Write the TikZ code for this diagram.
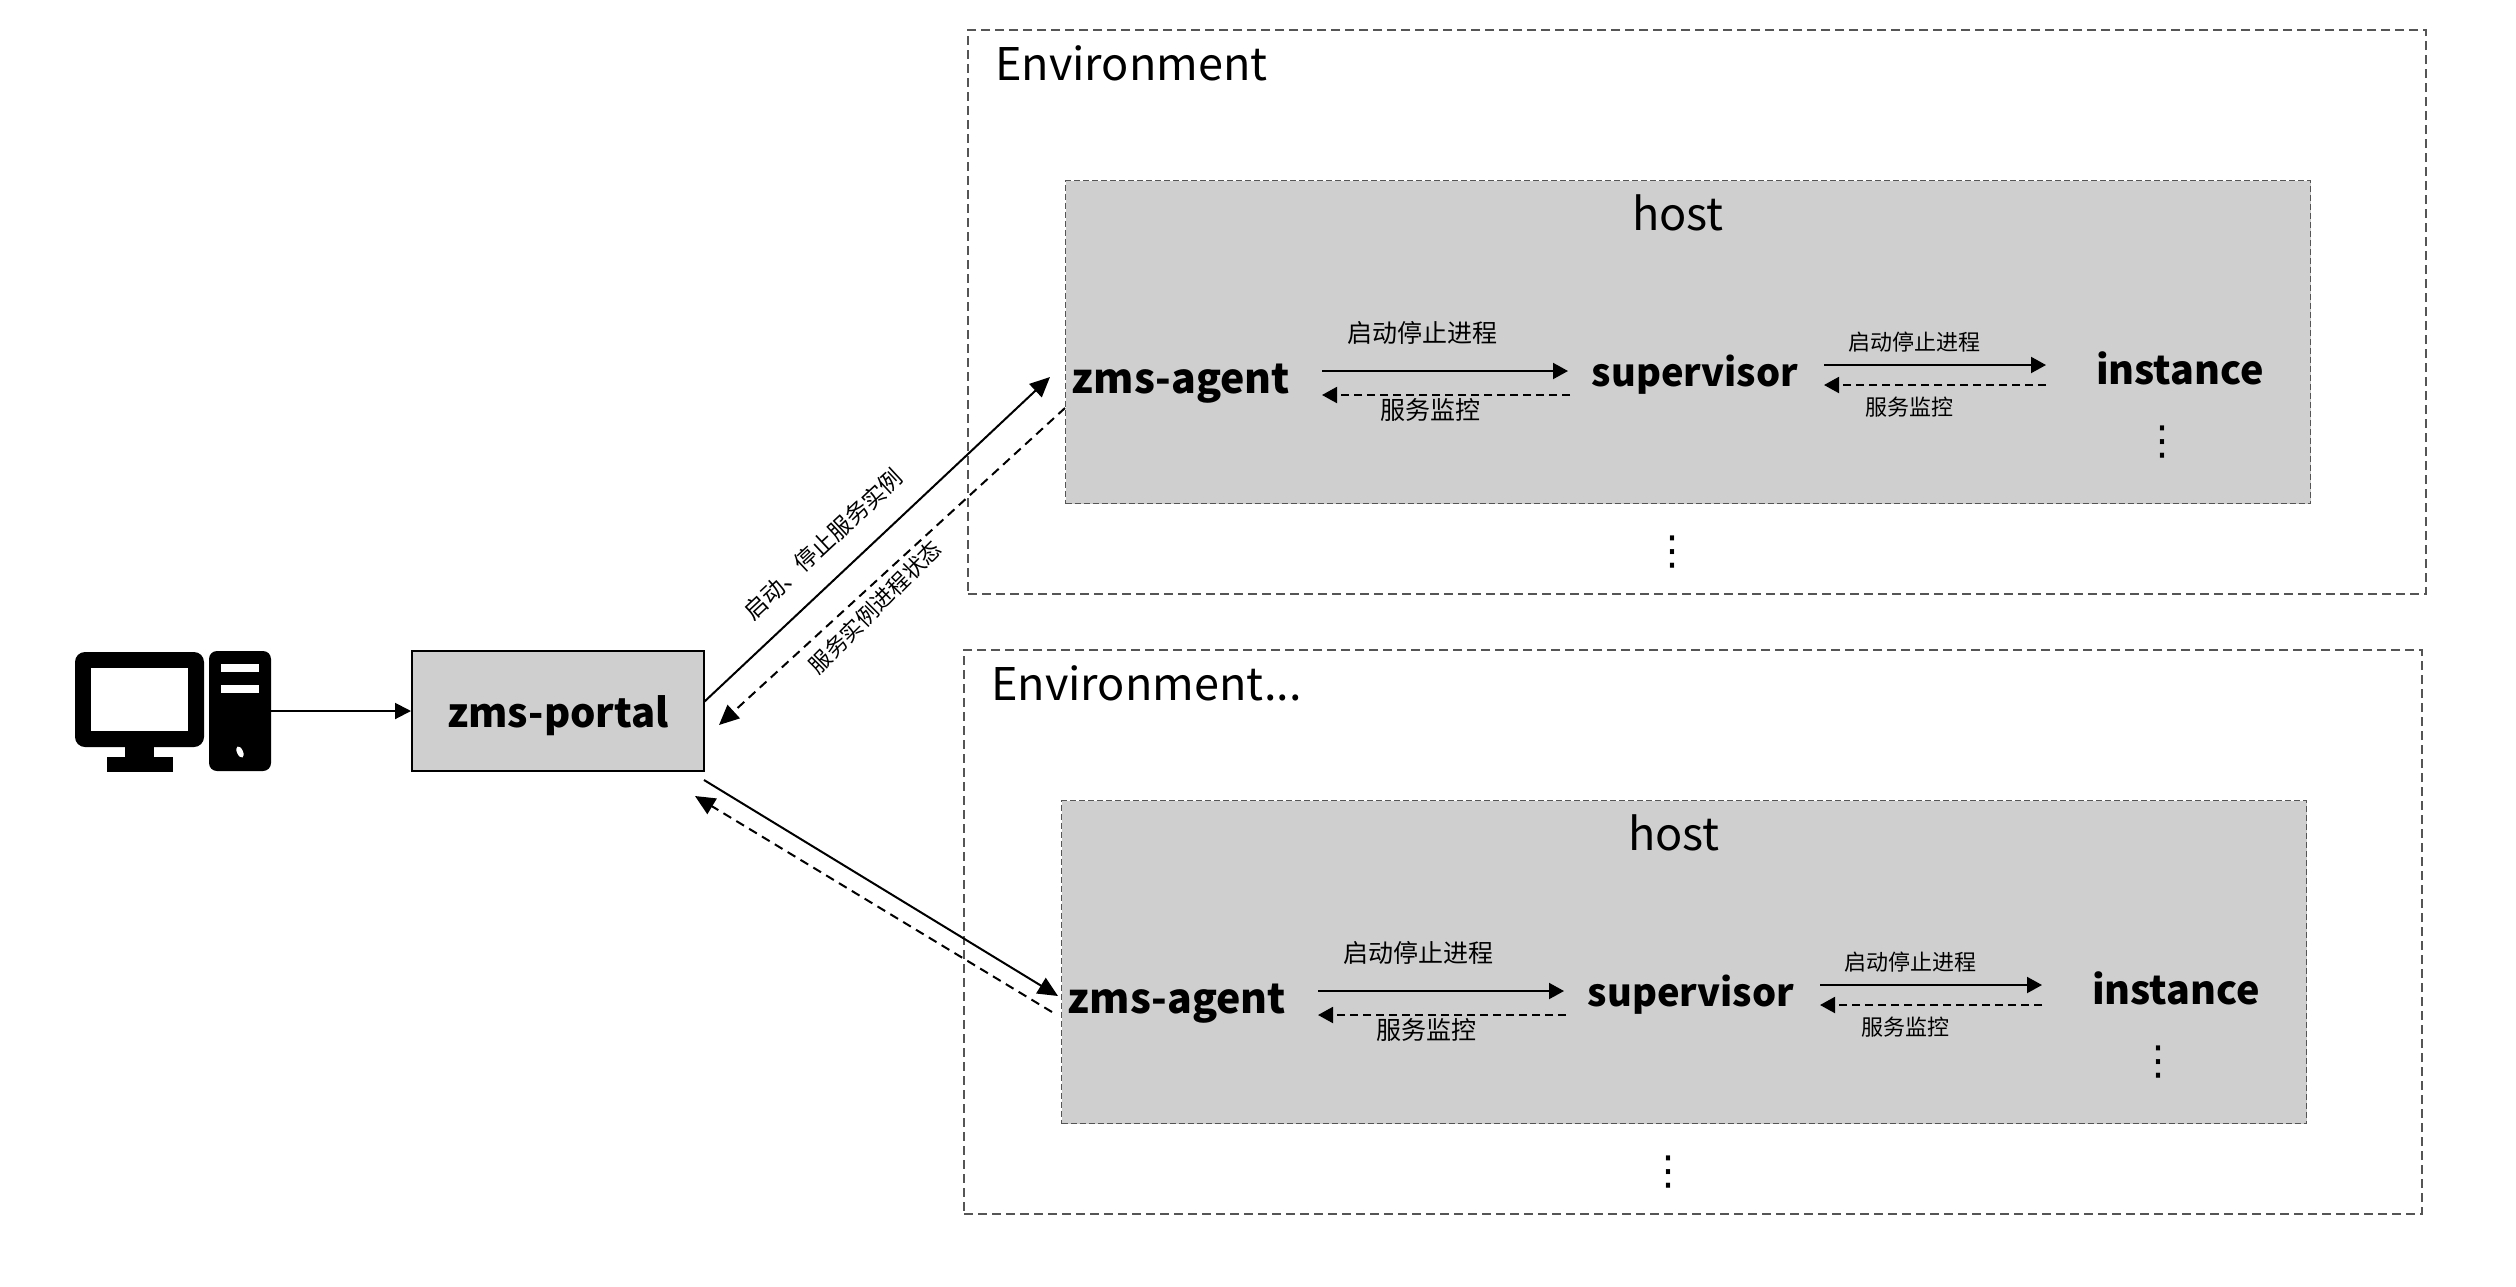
\documentclass[tikz,border=0pt]{standalone}
\usepackage{fontspec}
\setmainfont{Noto Sans}
\newfontfamily\cjk{Noto Sans CJK SC}
\newfontfamily\dotsfont{DejaVu Sans}
\usetikzlibrary{arrows.meta,calc}
\definecolor{boxgray}{HTML}{CFCFCF}
\definecolor{dashgray}{HTML}{555555}
\newcommand{\fs}[1]{\fontsize{#1}{#1}\selectfont}
\tikzset{
  x=1pt,y=-1pt,
  envbox/.style={draw=dashgray,line width=1.6pt,dash pattern=on 9pt off 5pt,minimum width=1458pt,minimum height=564pt,inner sep=0pt},
  hostbox/.style={draw=dashgray,fill=boxgray,line width=1.6pt,dash pattern=on 6pt off 3pt,minimum width=1245pt,minimum height=323pt,inner sep=0pt},
  portalbox/.style={draw=black,fill=boxgray,line width=2pt,minimum width=292pt,minimum height=120pt,inner sep=0pt,text height=34pt,text depth=2pt},
  titletext/.style={font=\cjk\fs{45},inner sep=0pt,anchor=base},
  boldtext/.style={inner sep=0pt,anchor=base},
  smalla/.style={font=\cjk\fs{25},inner sep=0pt},
  smallb/.style={font=\cjk\fs{22},inner sep=0pt},
  dotstext/.style={font=\dotsfont\fs{40},inner sep=0pt},
  callsolid/.style={line width=2pt,-{Triangle[length=15pt,width=16pt]}},
  calldash/.style={line width=2pt,dash pattern=on 8pt off 5pt,-{Triangle[length=15pt,width=16pt]}},
  bigsolid/.style={line width=2pt,-{Triangle[length=20pt,width=18pt]}},
  bigdash/.style={line width=2pt,dash pattern=on 9pt off 6pt,-{Triangle[length=20pt,width=18pt]}}
}
\begin{document}
\begin{tikzpicture}
\useasboundingbox (0,0) rectangle (2516,1286);
\fill[white] (0,0) rectangle (2516,1286);
% computer
\fill[black,rounded corners=10pt] (75,652) rectangle (204,747);
\fill[white] (91,668) rectangle (188,731);
\fill[black] (125,745) rectangle (154,760);
\fill[black] (107,757) rectangle (173,772);
\node[fill=black,rounded corners=8pt,minimum width=62pt,minimum height=120pt,inner sep=0pt] (tower) at (240,711) {};
\fill[white] (221,664) rectangle (259,672);
\fill[white] (221,685) rectangle (259,693);
\fill[white,rotate around={-65:(240,752)}] (240,752) ellipse (6pt and 3pt);
\node[portalbox,font=\cjk\bfseries\fs{40}] (portal) at (558,711) {zms-portal};
\draw[line width=2pt,-{Triangle[length=16pt,width=16pt]}] (tower.east) -- (portal.west);
\foreach \n/\dx/\dy/\ttl in {1/0/0/{Environment},2/-4/620/{Environment...}}{
\begin{scope}[shift={(\dx,\dy)}]
  \node[envbox] (env\n) at (1697,312) {};
  \node[hostbox] (host\n) at (1688,342) {};
  \node[titletext,anchor=base west] (envt\n) at (995,80) {\ttl};
  \node[titletext] (hostt\n) at (1678,230) {host};
  \node[boldtext,font=\cjk\bfseries\fs{41}] (agent\n) at (1181,393) {zms-agent};
  \node[boldtext,font=\cjk\bfseries\fs{38}] (sup\n) at (1695,386) {supervisor};
  \node[boldtext,font=\cjk\bfseries\fs{39.5}] (inst\n) at (2180,384) {instance};
  \node[smalla] (la\n) at (1422,333) {启动停止进程};
  \node[smalla] (lb\n) at (1430,410) {服务监控};
  \node[smallb] (lc\n) at (1914,342) {启动停止进程};
  \node[smallb] (ld\n) at (1909,407) {服务监控};
  \node[dotstext] (da\n) at (2162,442) {⋮};
  \node[dotstext] (db\n) at (1672,552) {⋮};
  \draw[callsolid] ($(agent\n.base)+(141,-22)$) -- ($(sup\n.base)+(-127,-15)$);
  \draw[calldash] ($(sup\n.base)+(-125,9)$) -- ($(agent\n.base)+(141,2)$);
  \draw[callsolid] ($(sup\n.base)+(129,-21)$) -- ($(inst\n.base)+(-134,-19)$);
  \draw[calldash] ($(inst\n.base)+(-134,1)$) -- ($(sup\n.base)+(129,-1)$);
\end{scope}
}
\draw[bigsolid] ($(portal)+(146,-9)$) -- ($(agent1.base)+(-131,-16)$);
\draw[bigdash] ($(agent1.base)+(-116,15)$) -- ($(portal)+(161,14)$);
\draw[bigsolid] ($(portal)+(146,69)$) -- ($(agent2.base)+(-119,-17)$);
\draw[bigdash] ($(agent2.base)+(-125,-1)$) -- ($(portal)+(137,85)$);
\node[smalla,font=\cjk\fs{23},rotate=43] (lbl1) at (823,544) {启动、停止服务实例};
\node[smallb,rotate=45] (lbl2) at (875,607) {服务实例进程状态};
\end{tikzpicture}
\end{document}
